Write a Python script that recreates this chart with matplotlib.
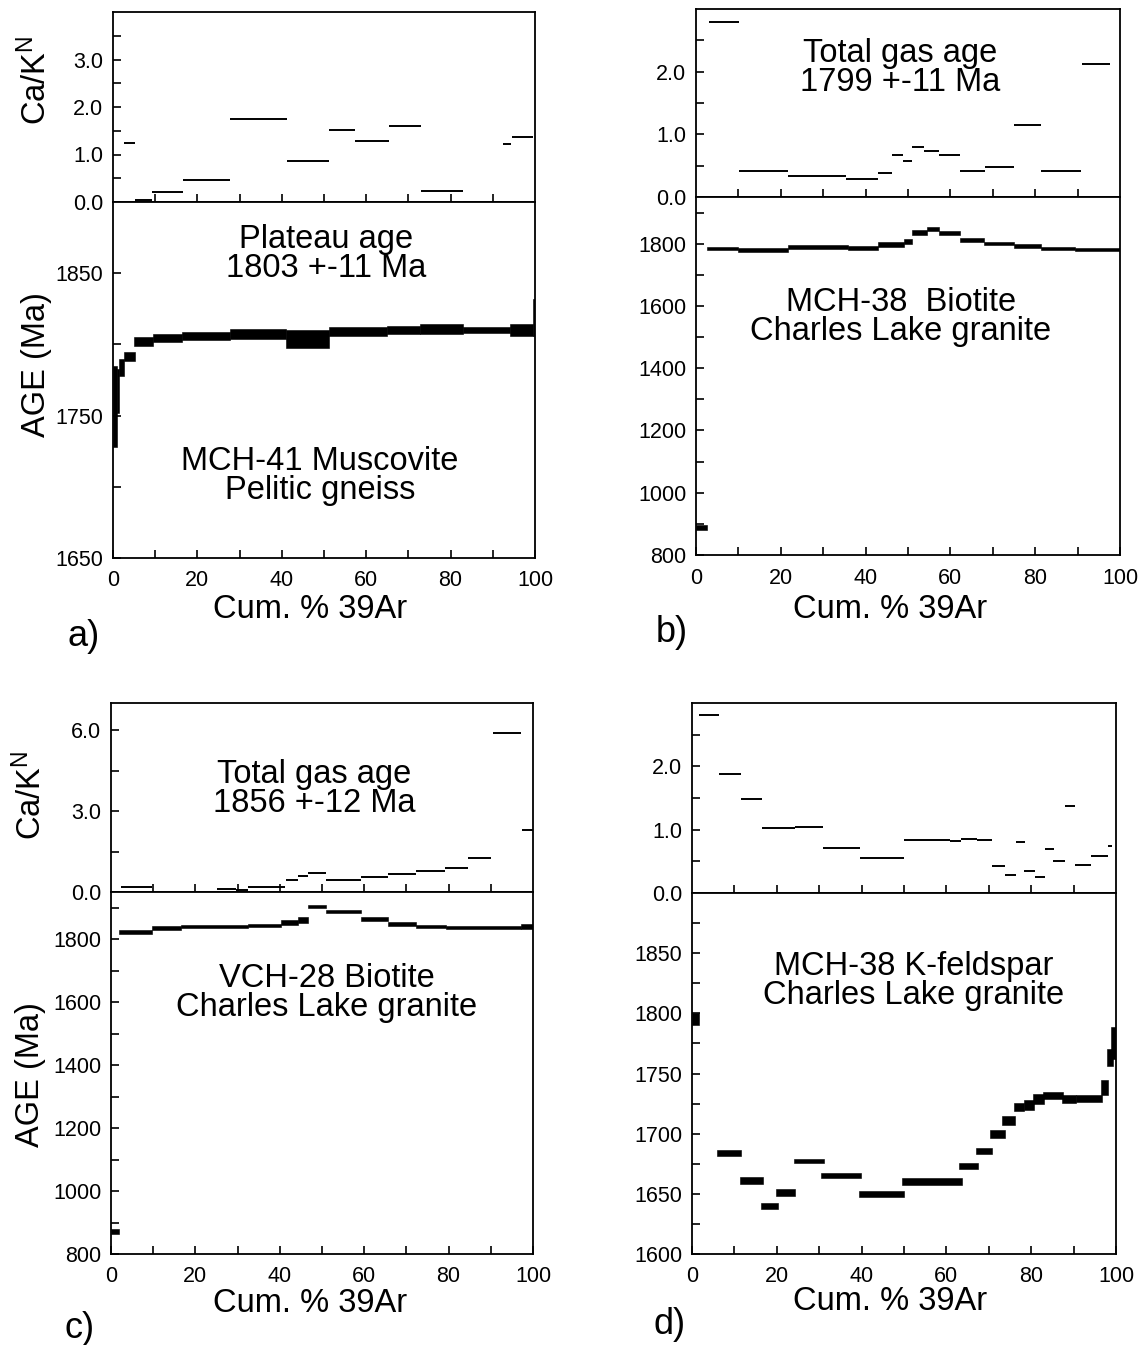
import matplotlib
matplotlib.use("Agg")
import matplotlib.pyplot as plt
from matplotlib.ticker import FixedLocator, FixedFormatter, NullFormatter

plt.rcParams['font.family'] = ['Liberation Sans', 'DejaVu Sans']
plt.rcParams['mathtext.default'] = 'regular'

W, H = 1145, 1345

# ---------------- Panel a: MCH-41 Muscovite ----------------
a_ck_left = [2.6, 5.2, 9.2, 16.5, 27.8, 41.3, 51.2, 57.3, 65.4, 73.0, 83.0, 92.3, 94.5]
a_ck_right = [5.2, 9.2, 16.5, 27.8, 41.3, 51.2, 57.3, 65.4, 73.0, 83.0, 92.1, 94.3, 99.5]
a_ck = [1.25, 0.05, 0.21, 0.46, 1.75, 0.87, 1.52, 1.28, 1.60, 0.23, 0.01, 1.23, 1.37]

a_age_left = [0.0, 1.0, 1.5, 2.6, 5.0, 9.4, 16.3, 27.7, 40.9, 51.2, 65.0, 72.7, 83.0, 94.1, 99.6]
a_age_right = [1.0, 1.5, 2.6, 5.2, 9.4, 16.3, 27.7, 40.9, 51.2, 65.0, 72.7, 83.0, 94.1, 99.6, 100.0]
a_age_lo = [1728, 1752, 1778, 1788, 1799, 1802, 1803, 1803.5, 1797.5, 1806, 1807, 1807.5, 1808, 1806, 1806]
a_age_hi = [1785, 1783, 1790, 1795, 1805, 1807, 1809, 1811, 1810, 1812, 1813, 1814, 1812, 1814, 1832]

# ---------------- Panel b: MCH-38 Biotite ----------------
b_ck_left = [3.1, 10.2, 21.6, 35.4, 43.0, 46.2, 48.8, 51.0, 53.8, 57.3, 62.2, 68.1, 75.1, 81.3, 91.0]
b_ck_right = [10.2, 21.6, 35.4, 43.0, 46.2, 48.8, 51.0, 53.8, 57.3, 62.2, 68.1, 75.1, 81.3, 90.8, 97.7]
b_ck = [2.79, 0.41, 0.33, 0.29, 0.39, 0.67, 0.58, 0.79, 0.73, 0.67, 0.42, 0.48, 1.15, 0.41, 2.13]

b_age_left = [0.0, 2.7, 9.8, 21.6, 35.8, 42.9, 49.0, 51.0, 54.4, 57.3, 62.2, 67.9, 75.1, 81.4, 89.4]
b_age_right = [2.7, 9.8, 21.6, 35.8, 42.9, 49.0, 51.0, 54.4, 57.3, 62.2, 67.9, 75.1, 81.4, 89.4, 100.0]
b_age_lo = [880, 1780, 1774, 1782, 1779, 1789, 1799, 1829, 1842, 1829, 1806, 1796, 1786, 1780, 1777]
b_age_hi = [895, 1789, 1786, 1796, 1793, 1804, 1814, 1844, 1853, 1842, 1817, 1807, 1798, 1789, 1786]

# ---------------- Panel c: VCH-28 Biotite ----------------
c_ck_left = [2.4, 25.1, 29.6, 32.4, 41.5, 44.3, 46.6, 51.0, 59.3, 65.6, 72.3, 79.1, 84.6, 90.5, 97.5]
c_ck_right = [9.6, 29.6, 32.4, 41.3, 44.3, 46.6, 51.0, 59.3, 65.6, 72.3, 79.1, 84.6, 90.1, 97.2, 100.0]
c_ck = [0.17, 0.11, 0.08, 0.18, 0.45, 0.60, 0.72, 0.43, 0.56, 0.67, 0.79, 0.88, 1.27, 5.88, 2.29]

c_age_left = [0.0, 2.0, 9.6, 16.6, 32.4, 40.3, 44.3, 46.8, 51.0, 59.3, 65.6, 72.3, 79.4, 97.2]
c_age_right = [2.0, 9.6, 16.6, 32.4, 40.3, 44.3, 46.8, 51.0, 59.3, 65.6, 72.3, 79.4, 97.2, 100.0]
c_age_lo = [862, 1817, 1829, 1835, 1838, 1845, 1853, 1900, 1884, 1857, 1843, 1835, 1831, 1833]
c_age_hi = [880, 1830, 1841, 1846, 1849, 1860, 1869, 1909, 1894, 1869, 1854, 1846, 1842, 1849]

# ---------------- Panel d: MCH-38 K-feldspar ----------------
d_ck_left = [1.6, 6.3, 11.6, 16.5, 24.4, 30.9, 39.7, 49.9, 60.9, 63.5, 67.2, 70.8, 73.8, 76.3,
             78.2, 80.8, 83.2, 85.1, 87.9, 90.3, 94.0, 98.1]
d_ck_right = [6.3, 11.6, 16.5, 24.4, 30.9, 39.7, 49.9, 60.9, 63.5, 67.2, 70.8, 73.8, 76.3, 78.5,
              80.8, 83.2, 85.3, 87.9, 90.4, 94.0, 98.1, 99.1]
d_ck = [2.81, 1.88, 1.48, 1.02, 1.05, 0.71, 0.56, 0.84, 0.82, 0.85, 0.83, 0.42, 0.29, 0.80,
        0.35, 0.26, 0.70, 0.50, 1.38, 0.45, 0.59, 0.75]

d_age_left = [0.0, 6.0, 11.3, 16.2, 19.8, 24.1, 30.5, 39.4, 49.6, 63.0, 67.0, 70.3, 73.2, 75.9,
              78.3, 80.5, 82.9, 87.3, 90.6, 96.5, 97.9, 98.9]
d_age_right = [1.6, 11.5, 16.7, 20.2, 24.4, 31.1, 39.9, 50.1, 63.6, 67.5, 70.7, 73.8, 76.2, 78.3,
               80.7, 83.1, 87.4, 90.6, 96.7, 98.2, 99.2, 100.0]
d_age_lo = [1790, 1681.4, 1658.5, 1637.8, 1648.3, 1675.6, 1663.2, 1647.4, 1657.7, 1670.4, 1683,
            1696.4, 1707.5, 1718.5, 1720, 1724.8, 1729, 1725.7, 1726.2, 1731.8, 1756.6, 1762.2]
d_age_hi = [1800, 1686.7, 1664, 1642.5, 1653.8, 1679.3, 1667.6, 1652.2, 1663.2, 1675.6, 1688,
            1702.7, 1715, 1725.4, 1727.6, 1732.6, 1734.5, 1732.3, 1731.8, 1744.2, 1770.5, 1788.4]

x_major = [0, 20, 40, 60, 80, 100]
x_minor = [10, 30, 50, 70, 90]
x_labels = ["0", "20", "40", "60", "80", "100"]

panels = [
    dict(top=(113, 535, 12, 202), bot=(113, 535, 202, 558),
         ck=(a_ck_left, a_ck_right, a_ck), age=(a_age_left, a_age_right, a_age_lo, a_age_hi),
         ck_lim=(0, 4), ck_major=[0, 1, 2, 3], ck_labels=["0.0", "1.0", "2.0", "3.0"], ck_minor=[0.5, 1.5, 2.5, 3.5],
         age_lim=(1650, 1900), age_major=[1650, 1750, 1850], age_minor=[1700, 1800]),
    dict(top=(696, 1120, 9, 197), bot=(696, 1120, 197, 555),
         ck=(b_ck_left, b_ck_right, b_ck), age=(b_age_left, b_age_right, b_age_lo, b_age_hi),
         ck_lim=(0, 3), ck_major=[0, 1, 2], ck_labels=["0.0", "1.0", "2.0"], ck_minor=[0.5, 1.5, 2.5],
         age_lim=(800, 1950), age_major=[800, 1000, 1200, 1400, 1600, 1800], age_minor=[900, 1100, 1300, 1500, 1700, 1900]),
    dict(top=(111, 533, 703, 892), bot=(111, 533, 892, 1254),
         ck=(c_ck_left, c_ck_right, c_ck), age=(c_age_left, c_age_right, c_age_lo, c_age_hi),
         ck_lim=(0, 7), ck_major=[0, 3, 6], ck_labels=["0.0", "3.0", "6.0"], ck_minor=[1.5, 4.5],
         age_lim=(800, 1950), age_major=[800, 1000, 1200, 1400, 1600, 1800], age_minor=[900, 1100, 1300, 1500, 1700, 1900]),
    dict(top=(692, 1116, 703, 893), bot=(692, 1116, 893, 1254),
         ck=(d_ck_left, d_ck_right, d_ck), age=(d_age_left, d_age_right, d_age_lo, d_age_hi),
         ck_lim=(0, 3), ck_major=[0, 1, 2], ck_labels=["0.0", "1.0", "2.0"], ck_minor=[0.5, 1.5, 2.5],
         age_lim=(1600, 1900), age_major=[1600, 1650, 1700, 1750, 1800, 1850], age_minor=[1625, 1675, 1725, 1775, 1825, 1875]),
]

fig = plt.figure(figsize=(W / 100, H / 100), dpi=100)


def rect(l, r, t, b):
    return [l / W, 1 - b / H, (r - l) / W, (b - t) / H]


def fx(x):
    return x / W


def fy(y):
    return 1 - y / H


def style(ax):
    for s in ax.spines.values():
        s.set_linewidth(1.3)
        s.set_color('black')
    ax.tick_params(which='both', direction='in', length=6, width=1.2, labelsize=15.5,
                   top=False, right=False, pad=7)


for p in panels:
    axt = fig.add_axes(rect(*p['top']))
    axb = fig.add_axes(rect(*p['bot']))
    for ax in (axt, axb):
        style(ax)
        ax.set_xlim(0, 100)

    l, r, v = p['ck']
    axt.hlines(v, l, r, colors='black', linewidth=1.4)
    axt.set_ylim(*p['ck_lim'])
    axt.yaxis.set_major_locator(FixedLocator(p['ck_major']))
    axt.yaxis.set_major_formatter(FixedFormatter(p['ck_labels']))
    axt.yaxis.set_minor_locator(FixedLocator(p['ck_minor']))
    axt.xaxis.set_major_locator(FixedLocator(x_major[1:-1] + x_minor))
    axt.xaxis.set_major_formatter(NullFormatter())

    l, r, lo, hi = p['age']
    widths = [rr - ll for ll, rr in zip(l, r)]
    heights = [h - b for b, h in zip(lo, hi)]
    axb.bar(l, heights, width=widths, bottom=lo, align='edge', color='black', edgecolor='black', linewidth=0.4)
    axb.set_ylim(*p['age_lim'])
    axb.yaxis.set_major_locator(FixedLocator(p['age_major']))
    axb.yaxis.set_minor_locator(FixedLocator(p['age_minor']))
    axb.xaxis.set_major_locator(FixedLocator(x_major))
    axb.xaxis.set_major_formatter(FixedFormatter(x_labels))
    axb.xaxis.set_minor_locator(FixedLocator(x_minor))
    axb.tick_params(axis='x', which='major', pad=9)

# Axis labels
lab = dict(fontsize=23.5, ha='center', va='center')
for cx, cy in [(310, 610), (890, 610), (310, 1304), (890, 1301)]:
    fig.text(fx(cx), fy(cy), "Cum. % 39Ar", **lab)
for cx, cy, s in [(84, 637, "a)"), (672, 633, "b)"), (80, 1328, "c)"), (670, 1325, "d)")]:
    fig.text(fx(cx), fy(cy), s, fontsize=26, ha='center', va='center')
for cx, cy in [(36, 80), (31, 795)]:
    fig.text(fx(cx), fy(cy), "Ca/K$^{N}$", rotation=90, **lab)
for cx, cy in [(36, 365), (31, 1075)]:
    fig.text(fx(cx), fy(cy), "AGE (Ma)", rotation=90, **lab)

# Panel annotations
ann = dict(fontsize=23.5, ha='center', va='center', linespacing=0.93)
fig.text(fx(326), fy(254), "Plateau age\n1803 +-11 Ma", **ann)
fig.text(fx(320), fy(476), "MCH-41 Muscovite\nPelitic gneiss", **ann)
fig.text(fx(900), fy(68), "Total gas age\n1799 +-11 Ma", **ann)
fig.text(fx(901), fy(317), "MCH-38  Biotite\nCharles Lake granite", **ann)
fig.text(fx(314), fy(789), "Total gas age\n1856 +-12 Ma", **ann)
fig.text(fx(327), fy(993), "VCH-28 Biotite\nCharles Lake granite", **ann)
fig.text(fx(914), fy(981), "MCH-38 K-feldspar\nCharles Lake granite", **ann)

fig.savefig("out.png", dpi=100, facecolor='white')
